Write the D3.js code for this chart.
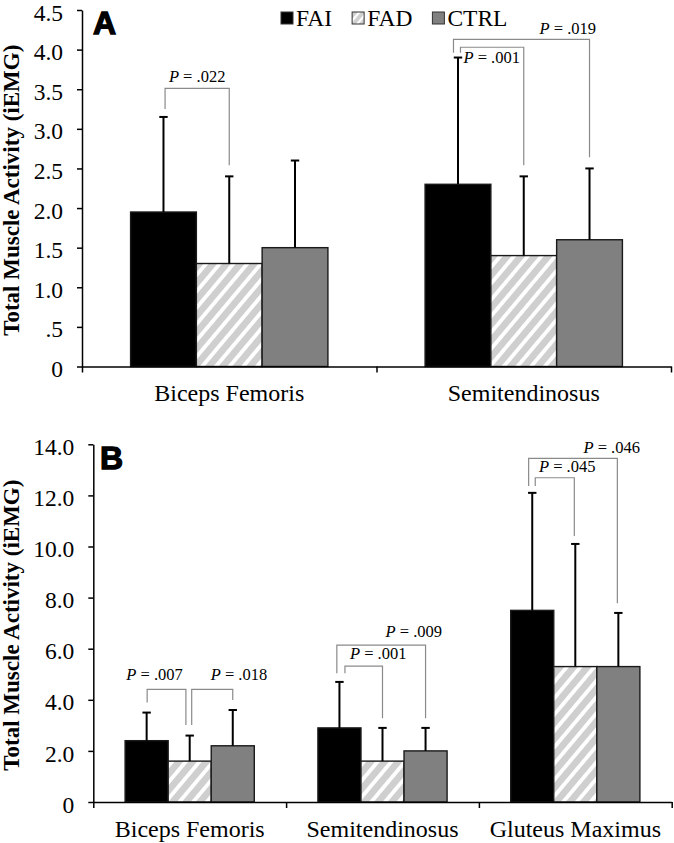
<!DOCTYPE html>
<html>
<head>
<meta charset="utf-8">
<script src="https://cdn.jsdelivr.net/npm/d3@7"></script>
<style>
  html, body { margin: 0; padding: 0; background: #fff; }
  svg { display: block; }
  text { font-family: "Liberation Serif", "Times New Roman", serif; fill: #000; }
</style>
</head>
<body>
<svg id="chart" width="674" height="843"></svg>
<script>
// ---------------- DATA ----------------
const seriesNames = ["FAI", "FAD", "CTRL"];

// Panel A
const categoriesA = ["Biceps Femoris", "Semitendinosus"];
const faiA = [1.95, 2.30];
const fadA = [1.30, 1.40];
const ctrlA = [1.50, 1.60];
const faiA_sd = [1.20, 1.60];
const fadA_sd = [1.10, 1.00];
const ctrlA_sd = [1.10, 0.90];
const ticksA = [0, 0.5, 1.0, 1.5, 2.0, 2.5, 3.0, 3.5, 4.0, 4.5];
const tickLabelsA = ["0", ".5", "1.0", "1.5", "2.0", "2.5", "3.0", "3.5", "4.0", "4.5"];

// Panel B
const categoriesB = ["Biceps Femoris", "Semitendinosus", "Gluteus Maximus"];
const faiB = [2.4, 2.9, 7.5];
const fadB = [1.6, 1.6, 5.3];
const ctrlB = [2.2, 2.0, 5.3];
const faiB_sd = [1.1, 1.8, 4.6];
const fadB_sd = [1.0, 1.3, 4.8];
const ctrlB_sd = [1.4, 0.9, 2.1];
const ticksB = [0, 2, 4, 6, 8, 10, 12, 14];
const tickLabelsB = ["0", "2.0", "4.0", "6.0", "8.0", "10.0", "12.0", "14.0"];

// Significance comparisons (bracket heights in data units)
const compsA = [
  { cat: 0, from: "FAI", to: "FAD",  p: ".022", top: 3.51, leftEnd: 3.25, rightEnd: 2.54 },
  { cat: 1, from: "FAI", to: "FAD",  p: ".001", top: 4.03, leftEnd: 3.96, rightEnd: 2.54 },
  { cat: 1, from: "FAI", to: "CTRL", p: ".019", top: 4.13, leftEnd: 3.96, rightEnd: 2.64 }
];
const compsB = [
  { cat: 0, from: "FAI", to: "FAD",  p: ".007", top: 4.41,  leftEnd: 3.89,  rightEnd: 3.01 },
  { cat: 0, from: "FAD", to: "CTRL", p: ".018", top: 4.41,  leftEnd: 3.01,  rightEnd: 3.99 },
  { cat: 1, from: "FAI", to: "FAD",  p: ".001", top: 5.32,  leftEnd: 5.04,  rightEnd: 3.28 },
  { cat: 1, from: "FAI", to: "CTRL", p: ".009", top: 6.14,  leftEnd: 5.04,  rightEnd: 3.28 },
  { cat: 2, from: "FAI", to: "FAD",  p: ".045", top: 12.69, leftEnd: 12.37, rightEnd: 10.41 },
  { cat: 2, from: "FAI", to: "CTRL", p: ".046", top: 13.45, leftEnd: 12.37, rightEnd: 7.78 }
];

// ---------------- LAYOUT (not data) ----------------
const layoutA = [
  { lx: 1.6, rx: 0,  anchor: "middle", ref: "mid",   dx: 0,    dy: -6.6 },
  { lx: 2.5, rx: 0,  anchor: "start",  ref: "left",  dx: 3,    dy: 15.6 },
  { lx: -4.5, rx: 0, anchor: "end",    ref: "right", dx: 6.5,  dy: -5.3 }
];
const layoutB = [
  { lx: 0.5, rx: -3.8, anchor: "middle", ref: "mid",  dx: -12, dy: -9.3 },
  { lx: 2.0, rx: 0,    anchor: "start",  ref: "left", dx: 19,  dy: -9.3 },
  { lx: 5.5, rx: 0,    anchor: "start",  ref: "left", dx: 5,   dy: -6.7 },
  { lx: -2.6, rx: 0,   anchor: "end",    ref: "right", dx: 16.5, dy: -8.3 },
  { lx: 3.0, rx: -1,   anchor: "start",  ref: "left", dx: 3.7, dy: -6 },
  { lx: -3.6, rx: -1,  anchor: "end",    ref: "right", dx: 22.6, dy: -5.6 }
];

const svg = d3.select("#chart");
const defs = svg.append("defs");

function hatch(id, spacing, stripe) {
  const p = defs.append("pattern")
    .attr("id", id)
    .attr("patternUnits", "userSpaceOnUse")
    .attr("width", spacing).attr("height", spacing)
    .attr("patternTransform", "rotate(40)");
  p.append("rect").attr("width", spacing).attr("height", spacing).attr("fill", "#cfcfcf");
  p.append("rect").attr("x", 0).attr("y", 0).attr("width", stripe).attr("height", spacing).attr("fill", "#ffffff");
}
hatch("hatchFAD", 10.5, 3.8);
hatch("hatchLegend", 6, 2.2);

const fills = { FAI: "#000000", FAD: "url(#hatchFAD)", CTRL: "#808080" };

function drawPanel(cfg) {
  const g = svg.append("g");
  const x = d3.scaleBand().domain(cfg.categories).range([cfg.x0, cfg.x1]).paddingInner(0).paddingOuter(0);
  const y = d3.scaleLinear().domain([0, cfg.ymax]).range([cfg.yBottom, cfg.yTop]);
  const bw = x.bandwidth();

  const inner = d3.scaleBand().domain(seriesNames).range([bw * 0.165, bw * 0.835]).padding(0);

  const rows = [];
  cfg.categories.forEach((c, i) => {
    seriesNames.forEach(s => {
      rows.push({ cat: c, i, s, v: cfg.values[s][i], sd: cfg.sds[s][i] });
    });
  });

  // bars
  g.append("g").selectAll("rect").data(rows).join("rect")
    .attr("x", d => x(d.cat) + inner(d.s))
    .attr("y", d => y(d.v))
    .attr("width", inner.bandwidth())
    .attr("height", d => y(0) - y(d.v))
    .attr("fill", d => fills[d.s])
    .attr("stroke", "#1a1a1a")
    .attr("stroke-width", 1.4);

  // error bars
  const cx = d => x(d.cat) + inner(d.s) + inner.bandwidth() / 2;
  const eg = g.append("g").attr("stroke", "#000").attr("stroke-width", 2);
  eg.selectAll("line.err").data(rows).join("line").attr("class", "err")
    .attr("x1", cx).attr("x2", cx)
    .attr("y1", d => y(d.v)).attr("y2", d => y(d.v + d.sd));
  eg.selectAll("line.cap").data(rows).join("line").attr("class", "cap")
    .attr("x1", d => cx(d) - 4.2).attr("x2", d => cx(d) + 4.2)
    .attr("y1", d => y(d.v + d.sd)).attr("y2", d => y(d.v + d.sd));

  // y axis
  const yAxis = d3.axisLeft(y)
    .tickValues(cfg.ticks)
    .tickFormat((d, i) => cfg.tickLabels[i])
    .tickSize(5).tickSizeOuter(0).tickPadding(14);
  const ya = g.append("g").attr("transform", `translate(${cfg.x0},0)`).call(yAxis);
  ya.select(".domain").attr("stroke", "#000").attr("stroke-width", 1.5);
  ya.selectAll(".tick line").attr("stroke", "#000").attr("stroke-width", 1.5);
  ya.selectAll(".tick text")
    .style("font-family", "'Liberation Serif', 'Times New Roman', serif")
    .attr("font-size", 23.5).attr("dy", "0.43em").attr("fill", "#000");

  // x axis: boundary ticks
  const n = cfg.categories.length;
  const lin = d3.scaleLinear().domain([0, n]).range([cfg.x0, cfg.x1]);
  const xb = g.append("g").attr("transform", `translate(0,${cfg.yBottom})`)
    .call(d3.axisBottom(lin).tickValues(d3.range(n + 1)).tickFormat("").tickSize(6).tickSizeOuter(0));
  xb.select(".domain").attr("stroke", "#000").attr("stroke-width", 1.5);
  xb.selectAll(".tick line").attr("stroke", "#000").attr("stroke-width", 1.5);

  // x axis labels
  const xl = g.append("g").attr("transform", `translate(0,${cfg.yBottom})`)
    .call(d3.axisBottom(x).tickSize(0).tickPadding(0));
  xl.select(".domain").remove();
  xl.selectAll(".tick text")
    .style("font-family", "'Liberation Serif', 'Times New Roman', serif")
    .attr("font-size", 24).attr("dy", null).attr("y", 34.5).attr("fill", "#000");

  // y title
  g.append("text")
    .attr("transform", `translate(19,${(cfg.yTop + cfg.yBottom) / 2 + 2}) rotate(-90)`)
    .attr("text-anchor", "middle")
    .attr("font-weight", "bold")
    .attr("font-size", 23)
    .text("Total Muscle Activity (iEMG)");

  // panel letter
  g.append("text")
    .attr("x", cfg.letterX).attr("y", cfg.letterY)
    .style("font-family", "'Liberation Sans', Arial, sans-serif")
    .attr("font-weight", "bold").attr("font-size", 32)
    .attr("stroke", "#000").attr("stroke-width", 1.3)
    .text(cfg.letter);

  // significance brackets
  const bg = g.append("g");
  cfg.comps.forEach((c, k) => {
    const L = cfg.layout[k];
    const cat = cfg.categories[c.cat];
    const xl0 = x(cat) + inner(c.from) + inner.bandwidth() / 2 + L.lx;
    const xr0 = x(cat) + inner(c.to) + inner.bandwidth() / 2 + L.rx;
    const yt = y(c.top);
    bg.append("path")
      .attr("d", `M${xl0},${y(c.leftEnd)}V${yt}H${xr0}V${y(c.rightEnd)}`)
      .attr("fill", "none").attr("stroke", "#8a8a8a").attr("stroke-width", 1.2);
    const refX = L.ref === "left" ? xl0 : L.ref === "right" ? xr0 : (xl0 + xr0) / 2;
    const t = bg.append("text")
      .attr("x", refX + L.dx).attr("y", yt + L.dy)
      .attr("text-anchor", L.anchor)
      .attr("font-size", 16.5);
    t.append("tspan").attr("font-style", "italic").text("P");
    t.append("tspan").text(" = " + c.p);
  });
}

drawPanel({
  categories: categoriesA,
  values: { FAI: faiA, FAD: fadA, CTRL: ctrlA },
  sds: { FAI: faiA_sd, FAD: fadA_sd, CTRL: ctrlA_sd },
  ticks: ticksA, tickLabels: tickLabelsA, ymax: 4.5,
  x0: 82, x1: 671, yTop: 10, yBottom: 366.5,
  comps: compsA, layout: layoutA,
  letter: "A", letterX: 93, letterY: 34
});

drawPanel({
  categories: categoriesB,
  values: { FAI: faiB, FAD: fadB, CTRL: ctrlB },
  sds: { FAI: faiB_sd, FAD: fadB_sd, CTRL: ctrlB_sd },
  ticks: ticksB, tickLabels: tickLabelsB, ymax: 14,
  x0: 93.3, x1: 671.7, yTop: 444.3, yBottom: 802,
  comps: compsB, layout: layoutB,
  letter: "B", letterX: 100, letterY: 469
});

// legend
const legendFills = { FAI: "#000000", FAD: "url(#hatchLegend)", CTRL: "#808080" };
const lg = svg.append("g");
let lx = 281;
seriesNames.forEach(s => {
  lg.append("rect").attr("x", lx).attr("y", 12).attr("width", 12).attr("height", 12)
    .attr("fill", legendFills[s]).attr("stroke", "#333").attr("stroke-width", 1);
  const t = lg.append("text").attr("x", lx + 15).attr("y", 26).attr("font-size", 23.5).text(s);
  lx = lx + 15 + t.node().getComputedTextLength() + 20;
});
</script>
</body>
</html>
